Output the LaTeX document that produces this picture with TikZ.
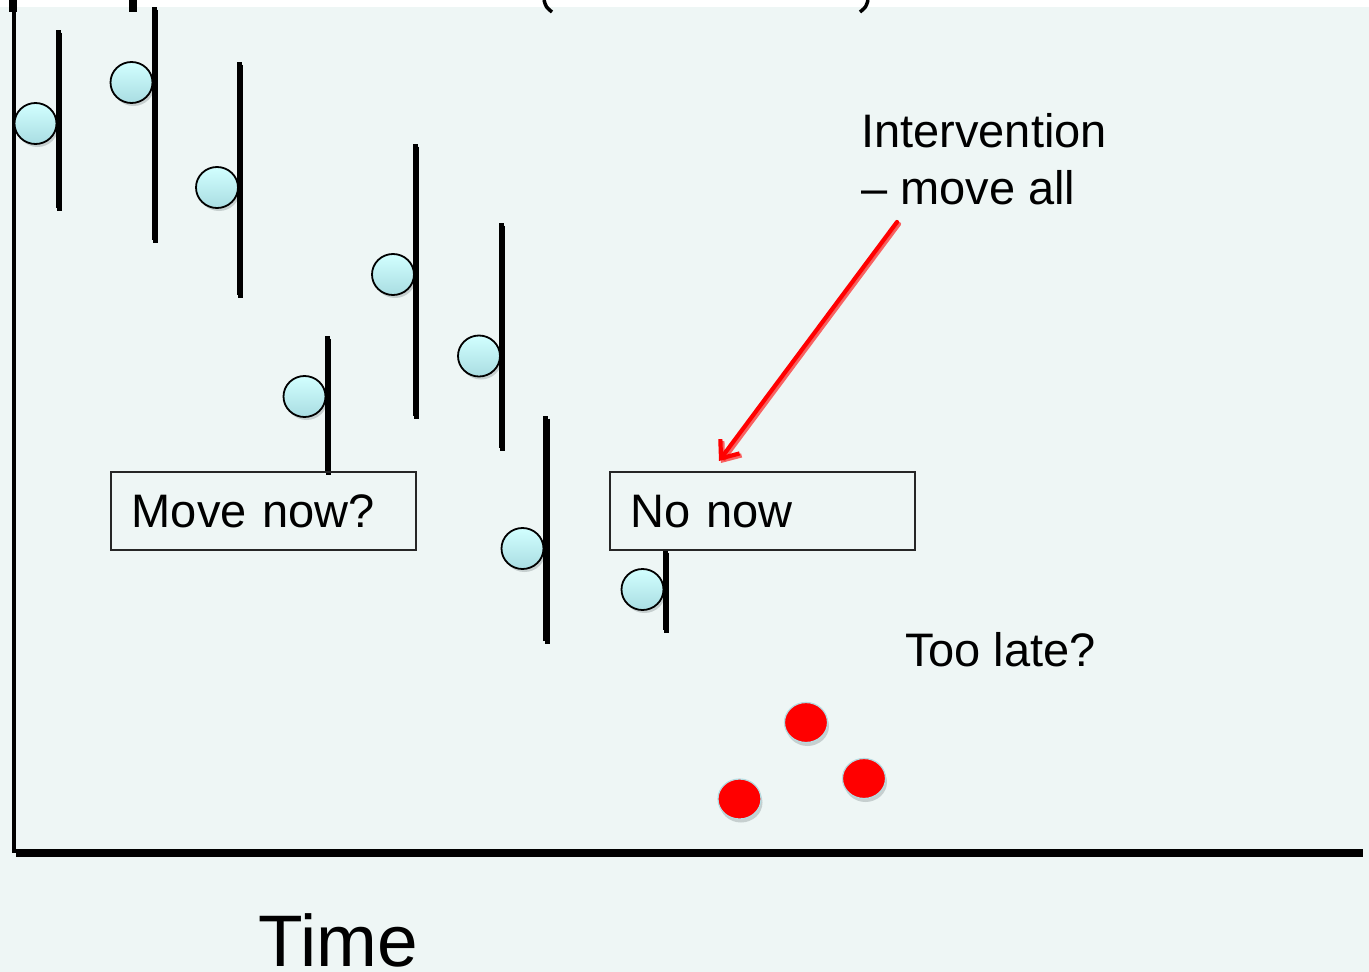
\documentclass[tikz,border=0pt]{standalone}
\usepackage{fontspec}
\setmainfont{Liberation Sans}
\usetikzlibrary{arrows.meta,shapes.geometric,shadows}

\definecolor{slidebg}{HTML}{EEF6F5}
\definecolor{beadtop}{HTML}{D2FFFF}
\definecolor{beadbot}{HTML}{A9DDE2}
\definecolor{shade}{HTML}{BCC6C6}
\definecolor{redrim}{HTML}{B4DCE2}

\tikzset{
  bead/.style={ellipse, draw=black, line width=1.8pt, inner sep=0pt,
    minimum width=42pt, minimum height=41pt,
    top color=beadtop, bottom color=beadbot,
    drop shadow={shadow xshift=2pt, shadow yshift=-3pt, fill=shade, opacity=.8}},
  errbar/.style={line width=5pt, black},
  errshade/.style={line width=5pt, shade},
  reddot/.style={ellipse, fill=red, draw=redrim, line width=1.2pt, inner sep=0pt,
    minimum width=43pt, minimum height=40pt,
    drop shadow={shadow xshift=1.5pt, shadow yshift=-3.5pt, fill=shade, opacity=.8}},
  txt/.style={font=\fontsize{47}{57}\selectfont, inner sep=0pt},
  labelbox/.style={draw=black!85, line width=1.5pt, anchor=north west,
    minimum width=305pt, minimum height=78pt, text width=263pt, inner xsep=21pt,
    text height=34pt, text depth=0pt, align=left,
    font=\fontsize{47}{57}\selectfont},
  pointer/.style={red, line width=4.2pt, line cap=round,
    -{Straight Barb[length=15pt, width=24pt, line width=4.2pt]}},
  axis/.style={line width=4.5pt, black, line join=miter},
}

\begin{document}
\begin{tikzpicture}[x=1pt, y=-1pt]
\useasboundingbox (0,0) rectangle (1369,972);
\fill[slidebg] (0,0) rectangle (1369,972);
\fill[white] (0,0) rectangle (1369,7);

% lower ends of the title glyphs along the top edge
\fill[black] (9,0) rectangle (17,12);
\fill[black] (129,0) rectangle (137,12);
\draw[line width=3.5pt] (544,0) .. controls (546,7) .. (552,12);
\draw[line width=3.5pt] (868,0) .. controls (866,7) .. (860,12);

% axes
\coordinate (origin) at (14,851);
\coordinate (ytop) at (14,0);
\coordinate (xend) at (1363,851);
\draw[line width=4.5pt, shade] ([shift={(2,4)}]origin) -- ([shift={(0,4)}]xend);
\draw[axis] (ytop) -- (origin) -- (xend);

% estimates with their intervals
\foreach \i/\bx/\by/\lx/\ta/\tb in {
    1/35.5/123.5/58/30/208,
    2/131.5/82.5/154/7/240,
    3/217/187.5/239/62/295,
    4/304.5/396.5/327/336/472,
    5/393/274.5/415/144/416,
    6/479/356/501/223/448,
    7/522.5/548.5/545.5/416/641,
    8/642.5/589.5/665/550/630} {
  \node[bead] (b\i) at (\bx,\by) {};
  \coordinate (top\i) at (\lx,\ta);
  \coordinate (bot\i) at (\lx,\tb);
  \draw[errshade] ([shift={(1.5,2.5)}]top\i) -- ([shift={(1.5,2.5)}]bot\i);
  \draw[errbar] (top\i) -- (bot\i);
}

% question boxes
\node[labelbox] (movenow) at (110,471) {Move now?};
\node[labelbox] (nonow) at (609,471) {No now};

% annotation (base anchor sits on the last line)
\node[txt, anchor=base west, align=left] (interv) at (861,204) {Intervention\\– move all};
\coordinate (arrstart) at (897,222);
\coordinate (arrend) at (719,461);
\draw[pointer, shade, opacity=.6] ([shift={(2,2)}]arrstart) -- ([shift={(2,2)}]arrend);
\draw[pointer] (arrstart) -- (arrend);

\node[font=\fontsize{47}{56}\selectfont, inner sep=0pt, anchor=base west] (late) at (905,666) {Too late?};

% late observations
\node[reddot] (r1) at (806,722.5) {};
\node[reddot] (r2) at (864,778.5) {};
\node[reddot] (r3) at (739.5,799) {};

% axis title
\node[font=\fontsize{73}{80}\selectfont, inner sep=0pt, anchor=base west] (time) at (258,966) {Time};
\end{tikzpicture}
\end{document}
